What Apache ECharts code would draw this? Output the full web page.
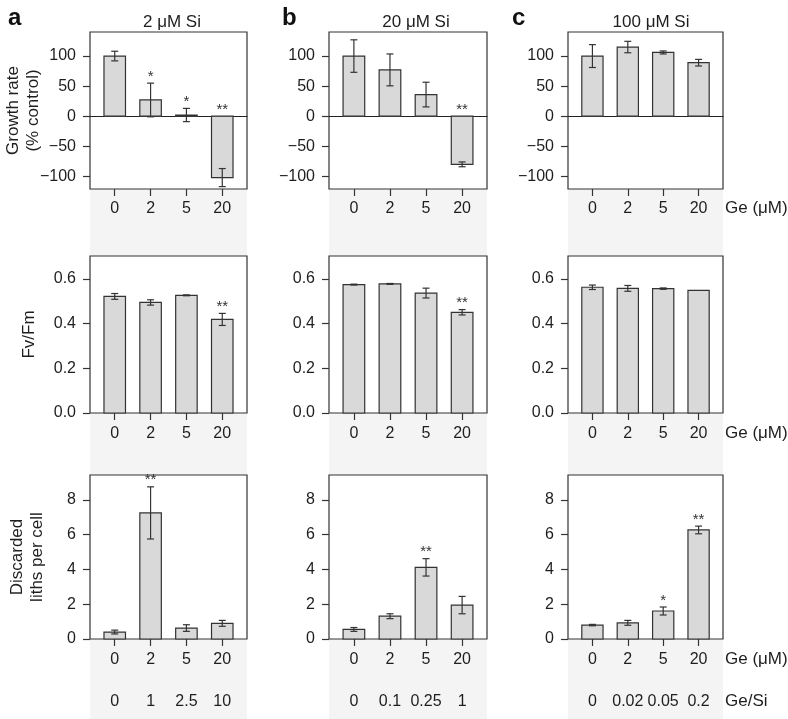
<!DOCTYPE html>
<html>
<head>
<meta charset="utf-8">
<script src="https://cdn.jsdelivr.net/npm/echarts@6/dist/echarts.min.js"></script>
<style>
html,body{margin:0;padding:0;background:#fff;}
#chart{width:788px;height:719px;}
</style>
</head>
<body>
<div id="chart"></div>
<script>
// ---------- data ----------
const geCats = ['0', '2', '5', '20'];
const ratioA = ['0', '1', '2.5', '10'];
const ratioB = ['0', '0.1', '0.25', '1'];
const ratioC = ['0', '0.02', '0.05', '0.2'];
const colTitles = ['2 μM Si', '20 μM Si', '100 μM Si'];
const panelLetters = ['a', 'b', 'c'];

const growthA = [100, 27, 2, -102];
const growthErrA = [8, 28, 11, 15];
const growthStarA = ['', '*', '*', '**'];
const growthB = [100, 77, 36, -80];
const growthErrB = [27, 26.5, 20.5, 4];
const growthStarB = ['', '', '', '**'];
const growthC = [100, 115, 106, 89];
const growthErrC = [19, 9.5, 2.5, 5.5];
const growthStarC = ['', '', '', ''];

const fvfmA = [0.522, 0.495, 0.527, 0.419];
const fvfmErrA = [0.013, 0.012, 0.002, 0.027];
const fvfmStarA = ['', '', '', '**'];
const fvfmB = [0.575, 0.578, 0.537, 0.451];
const fvfmErrB = [0.002, 0.002, 0.022, 0.012];
const fvfmStarB = ['', '', '', '**'];
const fvfmC = [0.563, 0.558, 0.557, 0.549];
const fvfmErrC = [0.010, 0.013, 0.003, 0];
const fvfmStarC = ['', '', '', ''];

const lithsA = [0.40, 7.25, 0.63, 0.90];
const lithsErrA = [0.11, 1.5, 0.19, 0.17];
const lithsStarA = ['', '**', '', ''];
const lithsB = [0.55, 1.31, 4.12, 1.95];
const lithsErrB = [0.11, 0.14, 0.5, 0.5];
const lithsStarB = ['', '', '**', ''];
const lithsC = [0.80, 0.93, 1.61, 6.27];
const lithsErrC = [0.04, 0.14, 0.23, 0.22];
const lithsStarC = ['', '', '*', '**'];

const growthTicks = [-100, -50, 0, 50, 100];
const fvfmTicks = [0, 0.2, 0.4, 0.6];
const lithsTicks = [0, 2, 4, 6, 8];

// ---------- layout / style ----------
const FONT = '"Liberation Sans", Arial, Helvetica, sans-serif';
const TXT = '#1e1e1e';
const LINE = '#333';
const cols = [{left: 90, width: 157}, {left: 329, width: 158}, {left: 568, width: 155}];
const rows = [
  {top: 32, height: 157, min: -121, max: 140, ticks: growthTicks, lm: 12,
   fmt: v => String(v).replace('-', '\u2212'), name: 'Growth rate\n(% control)', nameGap: 47,
   vals: [growthA, growthB, growthC], errs: [growthErrA, growthErrB, growthErrC],
   stars: [growthStarA, growthStarB, growthStarC]},
  {top: 256, height: 157, min: 0, max: 0.703, ticks: fvfmTicks, lm: 13,
   fmt: v => v.toFixed(1), name: 'Fv/Fm', nameGap: 51,
   vals: [fvfmA, fvfmB, fvfmC], errs: [fvfmErrA, fvfmErrB, fvfmErrC],
   stars: [fvfmStarA, fvfmStarB, fvfmStarC]},
  {top: 475, height: 164, min: 0, max: 9.43, ticks: lithsTicks, lm: 13,
   fmt: v => String(v), name: 'Discarded\nliths per cell', nameGap: 43,
   vals: [lithsA, lithsB, lithsC], errs: [lithsErrA, lithsErrB, lithsErrC],
   stars: [lithsStarA, lithsStarB, lithsStarC]}
];
const ratios = [ratioA, ratioB, ratioC];
const XMIN = -0.69, XMAX = 3.69;
const catIdx = geCats.map((c, i) => i);

const grids = [], xAxes = [], yAxes = [], series = [], graphics = [];

cols.forEach(c => {
  graphics.push({type: 'rect', z: -10, silent: true,
    shape: {x: c.left, y: 189, width: c.width, height: 530},
    style: {fill: '#f4f4f4'}});
});

function makeRender(stars) {
  return function (params, api) {
    const i = api.value(0), v = api.value(1), e = api.value(2);
    const base = api.coord([i, 0]);
    const top = api.coord([i, v]);
    const w = api.size([0.6, 0])[0];
    const hi = api.coord([i, v + e]);
    const lo = api.coord([i, v - e]);
    const cap = 3.5;
    const ch = [{
      type: 'rect',
      shape: {x: base[0] - w / 2, y: Math.min(base[1], top[1]), width: w, height: Math.abs(top[1] - base[1])},
      style: {fill: '#d9d9d9', stroke: LINE, lineWidth: 1.2}
    }];
    if (e > 0) {
      const ls = {stroke: LINE, lineWidth: 1.2};
      ch.push({type: 'line', shape: {x1: hi[0], y1: hi[1], x2: lo[0], y2: lo[1]}, style: ls});
      ch.push({type: 'line', shape: {x1: hi[0] - cap, y1: hi[1], x2: hi[0] + cap, y2: hi[1]}, style: ls});
      ch.push({type: 'line', shape: {x1: lo[0] - cap, y1: lo[1], x2: lo[0] + cap, y2: lo[1]}, style: ls});
    }
    const s = stars[params.dataIndex];
    if (s) {
      ch.push({type: 'text', style: {text: s, x: base[0], y: Math.min(hi[1], base[1]) + 1,
        align: 'center', verticalAlign: 'bottom', fontSize: 15, fontFamily: FONT, fill: LINE}});
    }
    return {type: 'group', children: ch};
  };
}

rows.forEach((r, ri) => {
  cols.forEach((c, ci) => {
    const gi = grids.length;
    grids.push({left: c.left, top: r.top, width: c.width, height: r.height, show: true,
      backgroundColor: '#fff', borderColor: LINE, borderWidth: 1.2, containLabel: false,
      outerBoundsMode: 'none'});
    const xi = xAxes.length;
    const labelAxis = {
      type: 'value', gridIndex: gi, min: XMIN, max: XMAX, position: 'bottom',
      axisLine: {show: false, onZero: false},
      axisTick: {show: true, length: 7, customValues: catIdx, lineStyle: {color: LINE, width: 1.2}},
      axisLabel: {customValues: catIdx, formatter: v => geCats[Math.round(v)], margin: r.lm,
        fontSize: 16, color: TXT, fontFamily: FONT, hideOverlap: false},
      splitLine: {show: false}, nameMoveOverlap: false
    };
    if (ci === 2) {
      labelAxis.name = 'Ge (μM)';
      labelAxis.nameLocation = 'end';
      labelAxis.nameGap = 2;
      labelAxis.nameTextStyle = {fontSize: 17, color: TXT, fontFamily: FONT, align: 'left',
        verticalAlign: 'top', padding: [r.lm - 1, 0, 0, 0]};
    }
    xAxes.push(labelAxis);
    if (ri === 0) {
      xAxes.push({type: 'value', gridIndex: gi, min: XMIN, max: XMAX, position: 'top',
        axisLine: {show: true, onZero: true, lineStyle: {color: '#222', width: 1.2}},
        axisTick: {show: false}, axisLabel: {show: false}, splitLine: {show: false}});
    }
    if (ri === 2) {
      const rat = ratios[ci];
      const ra = {type: 'value', gridIndex: gi, min: XMIN, max: XMAX, position: 'bottom', offset: 41,
        axisLine: {show: false, onZero: false}, axisTick: {show: false},
        axisLabel: {customValues: catIdx, formatter: v => rat[Math.round(v)], margin: 14,
          fontSize: 16, color: TXT, fontFamily: FONT, hideOverlap: false},
        splitLine: {show: false}, nameMoveOverlap: false};
      if (ci === 2) {
        ra.name = 'Ge/Si';
        ra.nameLocation = 'end';
        ra.nameGap = 2;
        ra.nameTextStyle = {fontSize: 17, color: TXT, fontFamily: FONT, align: 'left',
          verticalAlign: 'top', padding: [13, 0, 0, 0]};
      }
      xAxes.push(ra);
    }
    const yi = yAxes.length;
    const ya = {
      type: 'value', gridIndex: gi, min: r.min, max: r.max,
      axisLine: {show: false, onZero: false},
      axisTick: {show: true, length: 7, customValues: r.ticks, lineStyle: {color: LINE, width: 1.2}},
      axisLabel: {customValues: r.ticks, formatter: r.fmt, margin: 14, fontSize: 16, color: TXT,
        fontFamily: FONT, hideOverlap: false},
      splitLine: {show: false}, nameMoveOverlap: false
    };
    if (ci === 0) {
      ya.name = r.name;
      ya.nameLocation = 'middle';
      ya.nameRotate = 90;
      ya.nameGap = r.nameGap;
      ya.nameTextStyle = {fontSize: 17, lineHeight: 20, color: TXT, fontFamily: FONT};
    }
    yAxes.push(ya);
    const vals = r.vals[ci], errs = r.errs[ci];
    series.push({
      type: 'custom', xAxisIndex: xi, yAxisIndex: yi, silent: true,
      renderItem: makeRender(r.stars[ci]),
      encode: {x: 0, y: 1},
      data: vals.map((v, k) => [k, v, errs[k]])
    });
  });
});

const titles = [];
const titleX = [167, 411, 646];
colTitles.forEach((t, i) => {
  titles.push({text: t, left: titleX[i], top: 9, textAlign: 'center',
    textStyle: {fontSize: 17, fontWeight: 'normal', color: TXT, fontFamily: FONT}});
});
const letterX = [3, 277, 507];
panelLetters.forEach((t, i) => {
  titles.push({text: t, left: letterX[i], top: 1,
    textStyle: {fontSize: 24, fontWeight: 'bold', color: '#111', fontFamily: FONT}});
});

const chart = echarts.init(document.getElementById('chart'), null, {renderer: 'canvas'});
chart.setOption({
  animation: false,
  backgroundColor: '#fff',
  title: titles,
  graphic: {elements: graphics},
  grid: grids,
  xAxis: xAxes,
  yAxis: yAxes,
  series: series
});
</script>
</body>
</html>
